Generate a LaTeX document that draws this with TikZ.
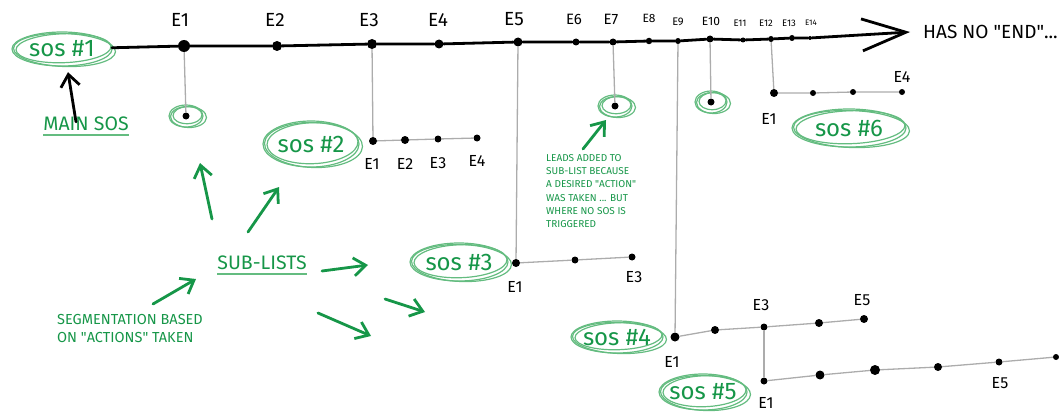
\documentclass[tikz,border=0pt]{standalone}
\usepackage{fontspec}
\setmainfont{Fira Sans}
\usetikzlibrary{arrows.meta,shapes.geometric,calc}
\definecolor{inkgreen}{RGB}{22,150,72}
\definecolor{ringgreen}{RGB}{100,188,128}
\definecolor{stemgrey}{RGB}{172,172,172}
% three loose concentric ellipses around a node centre
\newcommand\sosring[3]{%
  \draw[ring] (#1.center) ellipse [x radius=#2pt, y radius=#3pt];
  \draw[ring] ($(#1.center)+(1.5,-0.8)$) ellipse [x radius=#2pt-2.5pt, y radius=#3pt-2.5pt, rotate=2];
  \draw[ring] ($(#1.center)+(2.5,1)$) ellipse [x radius=#2pt+1pt, y radius=#3pt-0.5pt, rotate=-2];
}
\newcommand\dq{\textquotedbl}
\begin{document}
\begin{tikzpicture}[x=1pt,y=-1pt,
  evt/.style={circle,fill=black,inner sep=0pt,minimum size=#1},
  evt/.default=7pt,
  evlab/.style={font=\fontsize{#1}{#1}\selectfont, inner sep=0pt},
  mainline/.style={line width=2.8pt, line cap=round, line join=round},
  stem/.style={draw=stemgrey, line width=1.3pt},
  ring/.style={draw=ringgreen, line width=1.2pt},
  sos/.style={ellipse, inner sep=0pt, text=inkgreen, font=\fontsize{24}{24}\selectfont},
  note/.style={text=inkgreen, align=left, inner sep=0pt},
  garrow/.style={draw=inkgreen, line width=2.8pt, line cap=round,
    -{Straight Barb[length=12pt,width=18pt]}},
]
\useasboundingbox (0,0) rectangle (1059,412);

% ---------- main list ----------
\node[sos, minimum width=100pt, minimum height=34pt] (sos1) at (62,49) {sos \#1};
\sosring{sos1}{50}{17}

\node[evt=12pt] (m1) at (184,46) {};
\node[evt=10pt] (m2) at (277,46) {};
\node[evt=10pt] (m3) at (372,44) {};
\node[evt=9pt] (m4) at (439,44) {};
\node[evt=9pt] (m5) at (518,42) {};
\node[evt=7pt] (m6) at (576,42) {};
\node[evt=7pt] (m7) at (613,42) {};
\node[evt=6.5pt] (m8) at (649,41) {};
\node[evt=6pt] (m9) at (678,41) {};
\node[evt=7pt] (m10) at (710,39) {};
\node[evt=5pt] (m11) at (743,40) {};
\node[evt=6pt] (m12) at (771,39) {};
\node[evt=6pt] (m13) at (792,38) {};
\node[evt=4pt] (m14) at (810,38) {};
\coordinate (tip) at (910,32);

\draw[mainline, -{Straight Barb[length=44pt,width=32pt]}]
  (sos1) -- (m1) -- (m2) -- (m3) -- (m4) -- (m5) -- (m6) -- (m7) -- (m8)
  -- (m9) -- (m10) -- (m11) -- (m12) -- (m13) -- (m14) -- (tip);

\node[evlab=19] (l1) at (180,20) {E1};
\node[evlab=19] (l2) at (275,20) {E2};
\node[evlab=19] (l3) at (369,20) {E3};
\node[evlab=19] (l4) at (438,20) {E4};
\node[evlab=19] (l5) at (514,19) {E5};
\node[evlab=15] (l6) at (574,19) {E6};
\node[evlab=15] (l7) at (611,19) {E7};
\node[evlab=12] (l8) at (649,18) {E8};
\node[evlab=11] (l9) at (678,22) {E9};
\node[evlab=12] (l10) at (711,21) {E10};
\node[evlab=9.5] (l11) at (740,23) {E11};
\node[evlab=9.5] (l12) at (766,23) {E12};
\node[evlab=9.5] (l13) at (789,23) {E13};
\node[evlab=8] (l14) at (811,23) {E14};

\node[anchor=west, inner sep=0pt, font=\fontsize{19}{19}\selectfont] (noend) at (923,32) {HAS NO \dq END\dq...};

\node[note, font=\fontsize{19.5}{19.5}\selectfont] (mainlbl) at (86,124) {MAIN SOS};
\draw[ringgreen, line width=1.6pt] ([yshift=-4pt]mainlbl.south west) -- ([yshift=-4pt]mainlbl.south east);
\draw[line width=2.8pt, line cap=round, -{Straight Barb[length=12pt,width=19pt]}]
  ([xshift=-10pt,yshift=-5pt]mainlbl.north) -- ([xshift=6pt,yshift=-6pt]sos1.south);

% ---------- single leads (no SOS) ----------
\node[evt=7pt] (r1) at (186,116) {};
\sosring{r1}{17}{11}
\node[evt=7pt] (r7) at (615,106) {};
\sosring{r7}{17}{11}
\node[evt=7pt] (r10) at (711,102) {};
\sosring{r10}{16}{11}

\draw[stem] (m1) -- (r1);
\draw[stem] (m7) -- (r7);
\draw[stem] (m10) -- (r10);

% ---------- SOS #2 ----------
\node[sos, minimum width=96pt, minimum height=48pt] (sos2) at (311,144) {sos \#2};
\sosring{sos2}{48}{23}
\node[evt=8pt] (s2a) at (373,141) {};
\node[evt=8pt] (s2b) at (405,140) {};
\node[evt=7pt] (s2c) at (438,139) {};
\node[evt=7pt] (s2d) at (477,138) {};
\draw[stem] (m3) -- (s2a);
\draw[stem] (s2a) -- (s2b) -- (s2c) -- (s2d);
\node[evlab=16] at (372,164) {E1};
\node[evlab=16] at (405,164) {E2};
\node[evlab=16] at (438,163) {E3};
\node[evlab=16] at (477,161) {E4};

% ---------- SOS #3 ----------
\node[sos, minimum width=98pt, minimum height=38pt] (sos3) at (459,262) {sos \#3};
\sosring{sos3}{49}{19}
\node[evt=8pt] (s3a) at (516,263) {};
\node[evt=7pt] (s3b) at (575,260) {};
\node[evt=7pt] (s3c) at (632,257) {};
\draw[stem] (m5) -- (s3a);
\draw[stem] (s3a) -- (s3b) -- (s3c);
\node[evlab=16] at (515,287) {E1};
\node[evlab=16] at (634,277) {E3};

% ---------- SOS #4 and #5 ----------
\node[sos, minimum width=92pt, minimum height=32pt] (sos4) at (617,337) {sos \#4};
\sosring{sos4}{46}{16}
\node[evt=9pt] (s4a) at (675,337) {};
\node[evt=8pt] (s4b) at (715,330) {};
\node[evt=7pt] (s4c) at (764,327) {};
\node[evt=8pt] (s4d) at (819,323) {};
\node[evt=8pt] (s4e) at (864,319) {};
\draw[stem] (m9) -- (s4a);
\draw[stem] (s4a) -- (s4b) -- (s4c) -- (s4d) -- (s4e);
\node[evlab=16] at (672,362) {E1};
\node[evlab=16] at (761,305) {E3};
\node[evlab=16] at (862,300) {E5};

\node[sos, minimum width=88pt, minimum height=36pt] (sos5) at (703,392) {sos \#5};
\sosring{sos5}{44}{18}
\node[evt=7pt] (s5a) at (764,381) {};
\node[evt=9pt] (s5b) at (820,375) {};
\node[evt=10pt] (s5c) at (875,370) {};
\node[evt=8pt] (s5d) at (938,367) {};
\node[evt=7pt] (s5e) at (999,362) {};
\node[evt=6pt] (s5f) at (1056,357) {};
\draw[stem] (s4c) -- (s5a);
\draw[stem] (s5a) -- (s5b) -- (s5c) -- (s5d) -- (s5e) -- (s5f);
\node[evlab=16] at (766,403) {E1};
\node[evlab=16] at (1000,383) {E5};

% ---------- SOS #6 ----------
\node[sos, minimum width=114pt, minimum height=38pt] (sos6) at (849,128) {sos \#6};
\sosring{sos6}{57}{19}
\node[evt=8pt] (s6a) at (774,93) {};
\node[evt=6pt] (s6b) at (813,93) {};
\node[evt=6pt] (s6c) at (853,92) {};
\node[evt=6pt] (s6d) at (902,92) {};
\draw[stem] (m12) -- (s6a);
\draw[stem] (s6a) -- (s6b) -- (s6c) -- (s6d);
\node[evlab=16] at (769,119) {E1};
\node[evlab=16] at (902,77) {E4};

% ---------- notes and green arrows ----------
\node[note, font=\fontsize{19.5}{19.5}\selectfont] (sublbl) at (262,263) {SUB-LISTS};
\draw[ringgreen, line width=1.6pt] ([yshift=-4pt]sublbl.south west) -- ([yshift=-4pt]sublbl.south east);

\node[note, anchor=north west, font=\fontsize{10}{13.3}\selectfont] (leads) at (546,154)
  {LEADS ADDED TO\\SUB-LIST BECAUSE\\A DESIRED \dq ACTION\dq\\WAS TAKEN ... BUT\\WHERE NO SOS IS\\TRIGGERED};

\node[note, anchor=north west, font=\fontsize{14.5}{18}\selectfont] (segm) at (57,314)
  {SEGMENTATION BASED\\ON \dq ACTIONS\dq{} TAKEN};

\coordinate (a1s) at (212,219); \coordinate (a1e) at (200,163);
\coordinate (a2s) at (248,232); \coordinate (a2e) at (279,187);
\coordinate (a3s) at (322,271); \coordinate (a3e) at (368,265);
\coordinate (a4s) at (153,304); \coordinate (a4e) at (196,279);
\coordinate (a5s) at (318,313); \coordinate (a5e) at (371,336);
\coordinate (a6s) at (385,299); \coordinate (a6e) at (425,312);
\coordinate (a7s) at (583,149); \coordinate (a7e) at (606,120);
\draw[garrow] (a1s) -- (a1e);
\draw[garrow] (a2s) -- (a2e);
\draw[garrow] (a3s) -- (a3e);
\draw[garrow] (a4s) -- (a4e);
\draw[garrow] (a5s) -- (a5e);
\draw[garrow] (a6s) -- (a6e);
\draw[garrow] (a7s) -- (a7e);
\end{tikzpicture}
\end{document}
